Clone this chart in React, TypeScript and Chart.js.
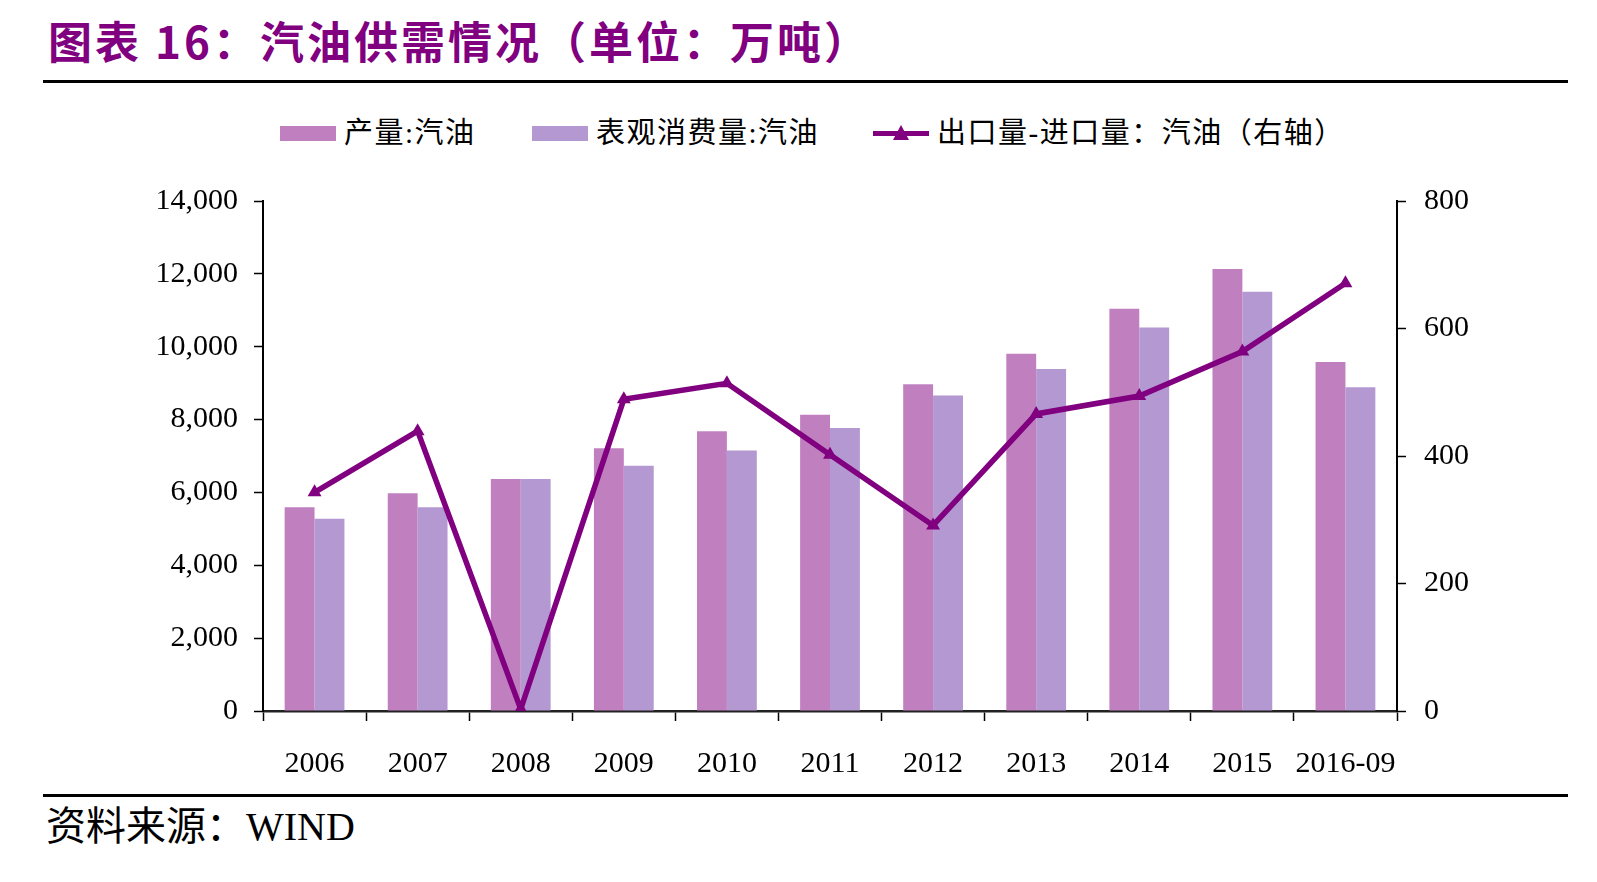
import React, { useEffect, useRef } from "react";
import { Chart, registerables } from "chart.js";

Chart.register(...registerables);

const categories = ["2006", "2007", "2008", "2009", "2010", "2011", "2012", "2013", "2014", "2015", "2016-09"];
const production = [5590, 5980, 6370, 7210, 7680, 8130, 8970, 9810, 11040, 12130, 9580];
const consumption = [5280, 5590, 6370, 6730, 7150, 7770, 8660, 9390, 10530, 11510, 8890];
const netExport = [343, 439, 3, 489, 514, 402, 291, 466, 494, 564, 671];
const leftTicks = [0, 2000, 4000, 6000, 8000, 10000, 12000, 14000];
const rightTicks = [0, 200, 400, 600, 800];

const PINK = "#C080C0";
const LAVENDER = "#B498D2";
const PURPLE = "#800080";
const SERIF = "'Liberation Serif', 'Noto Sans CJK SC', serif";

export default function App() {
  const canvasRef = useRef<HTMLCanvasElement | null>(null);

  useEffect(() => {
    if (!canvasRef.current) return;
    const tickFont = { family: "'Liberation Serif', serif", size: 30 };
    const chart = new Chart(canvasRef.current, {
      type: "bar",
      data: {
        labels: categories,
        datasets: [
          {
            type: "line",
            label: "出口量-进口量：汽油（右轴）",
            data: netExport,
            yAxisID: "y1",
            borderColor: PURPLE,
            backgroundColor: PURPLE,
            borderWidth: 5.5,
            pointStyle: "triangle",
            pointRadius: 8,
            pointBorderWidth: 0,
            pointBackgroundColor: PURPLE,
            tension: 0,
            order: 0,
          },
          {
            type: "bar",
            label: "产量:汽油",
            data: production,
            yAxisID: "y",
            backgroundColor: PINK,
            categoryPercentage: 0.58,
            barPercentage: 1.0,
            order: 1,
          },
          {
            type: "bar",
            label: "表观消费量:汽油",
            data: consumption,
            yAxisID: "y",
            backgroundColor: LAVENDER,
            categoryPercentage: 0.58,
            barPercentage: 1.0,
            order: 1,
          },
        ],
      } as any,
      options: {
        animation: false,
        responsive: true,
        maintainAspectRatio: false,
        layout: { padding: { top: 21, left: 0, right: 0, bottom: 0 } },
        plugins: { legend: { display: false }, tooltip: { enabled: false } },
        scales: {
          x: {
            offset: true,
            grid: {
              offset: true,
              drawOnChartArea: false,
              drawTicks: true,
              tickLength: 10,
              tickColor: "#000",
              tickWidth: 1.5,
            },
            border: { display: true, color: "#222", width: 2.5 },
            ticks: { color: "#000", font: tickFont, padding: 25, maxRotation: 0, autoSkip: false },
            afterFit: (s: any) => {
              s.height = 89;
            },
          },
          y: {
            position: "left",
            min: 0,
            max: 14000,
            afterBuildTicks: (s: any) => {
              s.ticks = leftTicks.map((v) => ({ value: v }));
            },
            grid: {
              drawOnChartArea: false,
              drawTicks: true,
              tickLength: 9,
              tickColor: "#000",
              tickWidth: 1.5,
            },
            border: { display: true, color: "#000", width: 2 },
            ticks: {
              color: "#000",
              font: tickFont,
              padding: 16,
              callback: (v: any) => Number(v).toLocaleString("en-US"),
            },
            afterFit: (s: any) => {
              s.width = 263;
              s.paddingTop = 0;
              s.paddingBottom = 0;
            },
          },
          y1: {
            position: "right",
            min: 0,
            max: 800,
            afterBuildTicks: (s: any) => {
              s.ticks = rightTicks.map((v) => ({ value: v }));
            },
            grid: {
              drawOnChartArea: false,
              drawTicks: true,
              tickLength: 9,
              tickColor: "#000",
              tickWidth: 1.5,
            },
            border: { display: true, color: "#000", width: 2 },
            ticks: { color: "#000", font: tickFont, padding: 18 },
            afterFit: (s: any) => {
              s.width = 200;
              s.paddingTop = 0;
              s.paddingBottom = 0;
            },
          },
        },
      } as any,
    });
    return () => chart.destroy();
  }, []);

  const legendText: React.CSSProperties = {
    fontFamily: SERIF,
    fontSize: 29,
    letterSpacing: 1.5,
    color: "#000",
    whiteSpace: "nowrap",
    lineHeight: "29px",
  };

  return (
    <div
      style={{
        position: "fixed",
        left: 0,
        top: 0,
        width: 1597,
        height: 882,
        background: "#fff",
        overflow: "hidden",
      }}
    >
      <div
        style={{
          position: "absolute",
          left: 48,
          top: 12,
          fontFamily: "'Noto Sans CJK SC', sans-serif",
          fontWeight: 700,
          fontSize: 44,
          lineHeight: "56px",
          letterSpacing: 3,
          color: PURPLE,
          whiteSpace: "nowrap",
        }}
      >
        图表 16：汽油供需情况（单位：万吨）
      </div>
      <div style={{ position: "absolute", left: 43, top: 80, width: 1525, height: 3, background: "#000" }} />

      {/* legend */}
      <div style={{ position: "absolute", left: 280, top: 126, width: 56, height: 15, background: PINK }} />
      <div style={{ ...legendText, position: "absolute", left: 344, top: 119 }}>产量:汽油</div>
      <div style={{ position: "absolute", left: 532, top: 126, width: 56, height: 15, background: LAVENDER }} />
      <div style={{ ...legendText, position: "absolute", left: 596, top: 119 }}>表观消费量:汽油</div>
      <div style={{ position: "absolute", left: 873, top: 131, width: 56, height: 5, background: PURPLE }} />
      <div
        style={{
          position: "absolute",
          left: 893,
          top: 125,
          width: 0,
          height: 0,
          borderLeft: "8px solid transparent",
          borderRight: "8px solid transparent",
          borderBottom: "15px solid " + PURPLE,
        }}
      />
      <div style={{ ...legendText, position: "absolute", left: 937, top: 119 }}>出口量-进口量：汽油（右轴）</div>

      <div style={{ position: "absolute", left: 0, top: 180, width: 1597, height: 620 }}>
        <canvas ref={canvasRef} />
      </div>

      <div style={{ position: "absolute", left: 43, top: 794, width: 1525, height: 3, background: "#000" }} />
      <div
        style={{
          position: "absolute",
          left: 46,
          top: 804,
          fontFamily: SERIF,
          fontSize: 40,
          lineHeight: "46px",
          color: "#000",
          whiteSpace: "nowrap",
        }}
      >
        资料来源：WIND
      </div>
    </div>
  );
}
